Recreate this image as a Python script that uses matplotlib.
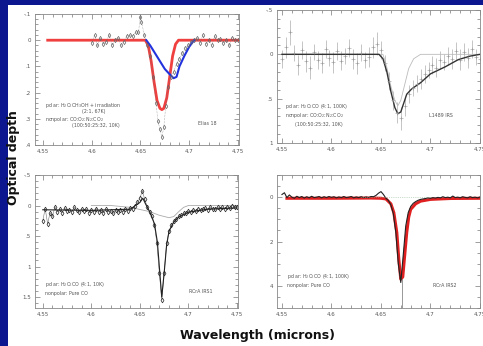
import numpy as np
import matplotlib
matplotlib.use("Agg")
import matplotlib.pyplot as plt
from matplotlib.patches import Rectangle
from matplotlib.ticker import MultipleLocator

W, H = 483, 346

# ---------------- Elias 18 (top left) ----------------
e18_x = [4.600, 4.603, 4.606, 4.609, 4.612, 4.615, 4.618, 4.621, 4.624, 4.627,
         4.630, 4.633, 4.636, 4.639, 4.642, 4.645, 4.648, 4.650, 4.651, 4.654,
         4.657, 4.660, 4.663, 4.666, 4.668, 4.670, 4.672, 4.674, 4.676, 4.678,
         4.681, 4.684, 4.687, 4.690, 4.693, 4.696, 4.699, 4.702, 4.705, 4.708,
         4.711, 4.714, 4.717, 4.720, 4.723, 4.726, 4.729, 4.732, 4.735, 4.738,
         4.741, 4.744, 4.747, 4.750]
e18_y = [0.01, -0.02, 0.02, -0.01, 0.015, 0.005, -0.02, 0.02, 0.0, -0.01,
         0.02, 0.005, -0.015, -0.02, -0.015, -0.03, -0.03, -0.09, -0.07, -0.02,
         0.02, 0.06, 0.14, 0.24, 0.31, 0.34, 0.37, 0.33, 0.25, 0.18,
         0.14, 0.12, 0.09, 0.07, 0.05, 0.03, 0.02, 0.005, 0.0, -0.01,
         0.01, -0.02, 0.015, 0.0, 0.02, -0.015, 0.0, -0.005, 0.01, 0.0,
         0.02, -0.01, 0.0, 0.0]
e18_red_x = [4.555, 4.655, 4.658, 4.661, 4.664, 4.667, 4.670, 4.672, 4.674, 4.677,
             4.680, 4.683, 4.686, 4.689, 4.750]
e18_red_y = [0, 0, 0.02, 0.08, 0.16, 0.23, 0.26, 0.265, 0.26, 0.22,
             0.14, 0.06, 0.015, 0, 0]
e18_blue_x = [4.656, 4.660, 4.665, 4.670, 4.675, 4.680, 4.684, 4.687, 4.690, 4.695, 4.700, 4.705]
e18_blue_y = [0, 0.02, 0.05, 0.08, 0.11, 0.13, 0.145, 0.14, 0.10, 0.06, 0.025, 0]

# ---------------- L1489 IRS (top right) ----------------
l14_x = list(np.round(np.arange(4.550, 4.7505, 0.004), 3))
l14_y = [0.05, -0.08, -0.25, -0.02, 0.12, -0.05, 0.08, 0.15, -0.03, 0.06,
         0.10, -0.06, 0.04, 0.09, -0.04, 0.07, 0.02, -0.07, 0.05, 0.10,
         -0.02, 0.06, 0.03, -0.08, -0.12, -0.05, 0.10, 0.30, 0.52, 0.66,
         0.72, 0.58, 0.45, 0.38, 0.33, 0.28, 0.22, 0.18, 0.12, 0.15,
         0.06, 0.09, 0.02, 0.05, -0.04, 0.06, -0.03, 0.04, -0.06, 0.03, 0.05]
l14_err = [0.10, 0.12, 0.14, 0.09, 0.11, 0.10, 0.12, 0.13, 0.09, 0.10,
           0.11, 0.10, 0.09, 0.12, 0.10, 0.11, 0.09, 0.10, 0.11, 0.12,
           0.10, 0.09, 0.11, 0.12, 0.13, 0.10, 0.09, 0.10, 0.11, 0.12,
           0.13, 0.11, 0.10, 0.09, 0.10, 0.11, 0.10, 0.09, 0.10, 0.11,
           0.10, 0.09, 0.10, 0.11, 0.10, 0.12, 0.10, 0.11, 0.10, 0.09, 0.10]
l14_fit_x = [4.550, 4.648, 4.652, 4.656, 4.660, 4.664, 4.667, 4.670, 4.673, 4.676,
             4.681, 4.690, 4.700, 4.715, 4.728, 4.740, 4.750]
l14_fit_y = [0, 0, 0.05, 0.2, 0.42, 0.6, 0.67, 0.65, 0.55, 0.45,
             0.39, 0.32, 0.22, 0.14, 0.06, 0.02, 0]
l14_np_x = [4.550, 4.652, 4.656, 4.660, 4.664, 4.667, 4.670, 4.674, 4.678, 4.683, 4.690, 4.750]
l14_np_y = [0, 0, 0.15, 0.36, 0.52, 0.58, 0.52, 0.34, 0.16, 0.05, 0, 0]

# ---------------- RCrA IRS1 (bottom left) ----------------
ir1_x = list(np.round(np.arange(4.550, 4.7501, 0.0025), 4))
ir1_y = [0.25, 0.05, 0.30, 0.12, 0.18, 0.02, 0.10, 0.06, 0.12, 0.04,
         0.09, 0.07, 0.10, 0.03, 0.08, 0.11, 0.05, 0.09, 0.06, 0.12,
         0.07, 0.10, 0.05, 0.11, 0.08, 0.12, 0.06, 0.10, 0.09, 0.13,
         0.07, 0.11, 0.08, 0.10, 0.06, 0.09, 0.04, 0.05, 0.00, -0.05,
         -0.12, -0.24, -0.10, 0.02, 0.10, 0.18, 0.32, 0.62, 1.10, 1.55,
         1.10, 0.62, 0.42, 0.32, 0.26, 0.22, 0.18, 0.16, 0.12, 0.13,
         0.09, 0.10, 0.07, 0.09, 0.05, 0.08, 0.06, 0.04, 0.07, 0.03,
         0.06, 0.05, 0.02, 0.05, 0.03, 0.06, 0.02, 0.04, 0.00, 0.03, 0.02]
ir1_fit_x = [4.550, 4.600, 4.640, 4.650, 4.653, 4.656, 4.660, 4.665, 4.668, 4.670,
             4.6725, 4.675, 4.6775, 4.680, 4.685, 4.690, 4.700, 4.720, 4.750]
ir1_fit_y = [0.07, 0.08, 0.06, -0.05, -0.12, -0.02, 0.10, 0.30, 0.60, 1.00,
             1.50, 1.10, 0.65, 0.42, 0.27, 0.19, 0.11, 0.06, 0.04]
ir1_pol_x = [4.600, 4.620, 4.640, 4.660, 4.670, 4.680, 4.685, 4.690, 4.695, 4.700, 4.750]
ir1_pol_y = [0, 0, 0.03, 0.10, 0.16, 0.20, 0.18, 0.10, 0.03, 0, 0]

# ---------------- RCrA IRS2 (bottom right) ----------------
ir2_x = list(np.round(np.arange(4.550, 4.7501, 0.0025), 4))
ir2_y = [-0.12, -0.20, 0.02, -0.10, 0.00, 0.05, -0.04, 0.02, -0.03, 0.04,
         -0.02, 0.03, -0.04, 0.02, 0.00, -0.03, 0.03, -0.02, 0.02, -0.03,
         0.01, -0.02, 0.03, -0.01, 0.02, -0.03, 0.02, 0.00, -0.03, 0.03,
         -0.01, 0.02, -0.02, 0.02, -0.01, 0.02, -0.03, -0.02, -0.08, -0.18,
         -0.25, -0.12, 0.05, 0.15, 0.35, 0.75, 1.60, 3.00, 3.85, 2.60,
         1.30, 0.70, 0.42, 0.28, 0.20, 0.14, 0.10, 0.08, 0.06, 0.03,
         0.05, 0.02, 0.04, 0.01, 0.03, -0.02, 0.02, 0.00, 0.03, -0.05,
         0.02, 0.00, 0.03, -0.02, 0.01, 0.03, -0.02, 0.02, 0.00, 0.03, -0.01]
ir2_red_x = [4.555, 4.600, 4.640, 4.650, 4.655, 4.660, 4.663, 4.666, 4.668, 4.670,
             4.672, 4.674, 4.676, 4.678, 4.680, 4.685, 4.690, 4.700, 4.720, 4.750]
ir2_red_y = [0.05, 0.05, 0.04, 0.05, 0.08, 0.30, 0.70, 1.60, 2.80, 3.70,
             3.60, 2.60, 1.60, 0.90, 0.55, 0.30, 0.18, 0.10, 0.06, 0.05]
ir2_line = 4.671

# -------------------------------------------------------
fig = plt.figure(figsize=(W / 100, H / 100), dpi=100, facecolor="#0b168f")
fig.patches.append(Rectangle((8 / W, 0), 1, (H - 5) / H, transform=fig.transFigure,
                             facecolor="white", edgecolor="none", zorder=-10))


def add_ax(x0, y0, x1, y1):
    return fig.add_axes([x0 / W, 1 - y1 / H, (x1 - x0) / W, (y1 - y0) / H])


def style(ax, xlim, ylim, yticks, ylabels, yminor):
    ax.set_xlim(*xlim)
    ax.set_ylim(*ylim)
    ax.set_xticks([4.55, 4.6, 4.65, 4.7, 4.75])
    ax.set_xticklabels(["4.55", "4.6", "4.65", "4.7", "4.75"])
    ax.set_yticks(yticks)
    ax.set_yticklabels(ylabels)
    ax.xaxis.set_minor_locator(MultipleLocator(0.01))
    ax.yaxis.set_minor_locator(MultipleLocator(yminor))
    ax.tick_params(which="both", direction="in", top=True, right=True,
                   labelsize=4, labelcolor="#555555", color="#777777", width=0.5, pad=3)
    ax.tick_params(which="major", length=3.5)
    ax.tick_params(which="minor", length=2)
    for s in ax.spines.values():
        s.set_color("#888888")
        s.set_linewidth(0.6)


txt = dict(fontsize=3.4, color="#555555")

# top left
ax = add_ax(35, 14, 239, 145)
ax.plot(e18_red_x, e18_red_y, color="#ee2a2a", lw=2, alpha=0.9)
ax.plot(e18_blue_x, e18_blue_y, color="#2233dd", lw=1.5)
ax.plot(e18_x, e18_y, linestyle=":", lw=0.4, color="#777777", marker="d",
        ms=2.2, mfc="none", mew=0.5, mec="#666666")
style(ax, (4.542, 4.751), (0.4, -0.1), [-0.1, 0, 0.1, 0.2, 0.3, 0.4],
      ["-.1", "0", ".1", ".2", ".3", ".4"], 0.02)
ax.text(0.05, 0.29, "polar: H$_2$O:CH$_3$OH + irradiation", transform=ax.transAxes, **txt)
ax.text(0.23, 0.245, "(2:1, 67K)", transform=ax.transAxes, **txt)
ax.text(0.05, 0.18, "nonpolar: CO:O$_2$:N$_2$:CO$_2$", transform=ax.transAxes, **txt)
ax.text(0.18, 0.135, "(100:50:25:32, 10K)", transform=ax.transAxes, **txt)
ax.text(0.80, 0.15, "Elias 18", transform=ax.transAxes, **txt)

# top right
ax = add_ax(277, 10, 480, 143)
ax.errorbar(l14_x, l14_y, yerr=l14_err, fmt="+", ms=2.5, mew=0.4,
            color="#999999", elinewidth=0.4, capsize=0)
ax.plot(l14_np_x, l14_np_y, color="#bbbbbb", lw=0.6)
ax.plot(l14_fit_x, l14_fit_y, color="#333333", lw=1.0)
style(ax, (4.545, 4.75), (1, -0.5), [-0.5, 0, 0.5, 1], ["-.5", "0", ".5", "1"], 0.1)
ax.text(0.04, 0.263, "polar: H$_2$O:CO (4:1, 100K)", transform=ax.transAxes, **txt)
ax.text(0.04, 0.195, "nonpolar: CO:O$_2$:N$_2$:CO$_2$", transform=ax.transAxes, **txt)
ax.text(0.09, 0.13, "(100:50:25:32, 10K)", transform=ax.transAxes, **txt)
ax.text(0.75, 0.195, "L1489 IRS", transform=ax.transAxes, **txt)

# bottom left
ax = add_ax(35, 175, 238, 308)
ax.plot(ir1_pol_x, ir1_pol_y, color="#aaaaaa", lw=0.6)
ax.plot(ir1_x, ir1_y, linestyle="-", lw=0.4, color="#777777", marker="d", ms=2.4,
        mfc="none", mew=0.55, mec="#333333")
ax.plot(ir1_fit_x, ir1_fit_y, color="#222222", lw=0.8)
style(ax, (4.542, 4.751), (1.68, -0.5), [-0.5, 0, 0.5, 1, 1.5],
      ["-.5", "0", ".5", "1", "1.5"], 0.1)
ax.text(0.05, 0.165, "polar: H$_2$O:CO (4:1, 10K)", transform=ax.transAxes, **txt)
ax.text(0.05, 0.1, "nonpolar: Pure CO", transform=ax.transAxes, **txt)
ax.text(0.76, 0.115, "RCrA IRS1", transform=ax.transAxes, **txt)

# bottom right
ax = add_ax(277, 175, 480, 308)
ax.plot(ir2_red_x, ir2_red_y, color="#e02020", lw=2.2)
ax.plot(ir2_x, ir2_y, color="#222222", lw=0.8)
ax.plot([4.63, 4.70], [0, 0], color="#99bb99", lw=0.5, linestyle=":")
ax.plot([ir2_line, ir2_line], [3.7, 5], color="#888888", lw=0.6)
style(ax, (4.545, 4.75), (5, -1), [0, 2, 4], ["0", "2", "4"], 0.5)
ax.text(0.05, 0.225, "polar: H$_2$O:CO (4:1, 100K)", transform=ax.transAxes, **txt)
ax.text(0.05, 0.155, "nonpolar: Pure CO", transform=ax.transAxes, **txt)
ax.text(0.77, 0.155, "RCrA IRS2", transform=ax.transAxes, **txt)

fig.text(258 / W, 1 - 335 / H, "Wavelength (microns)", ha="center", va="center",
         fontsize=9, fontweight="bold", color="#111111")
fig.text(14 / W, 1 - 158 / H, "Optical depth", ha="center", va="center", rotation=90,
         fontsize=9, fontweight="bold", color="#111111")

fig.savefig("out.png", dpi=100, facecolor=fig.get_facecolor())
